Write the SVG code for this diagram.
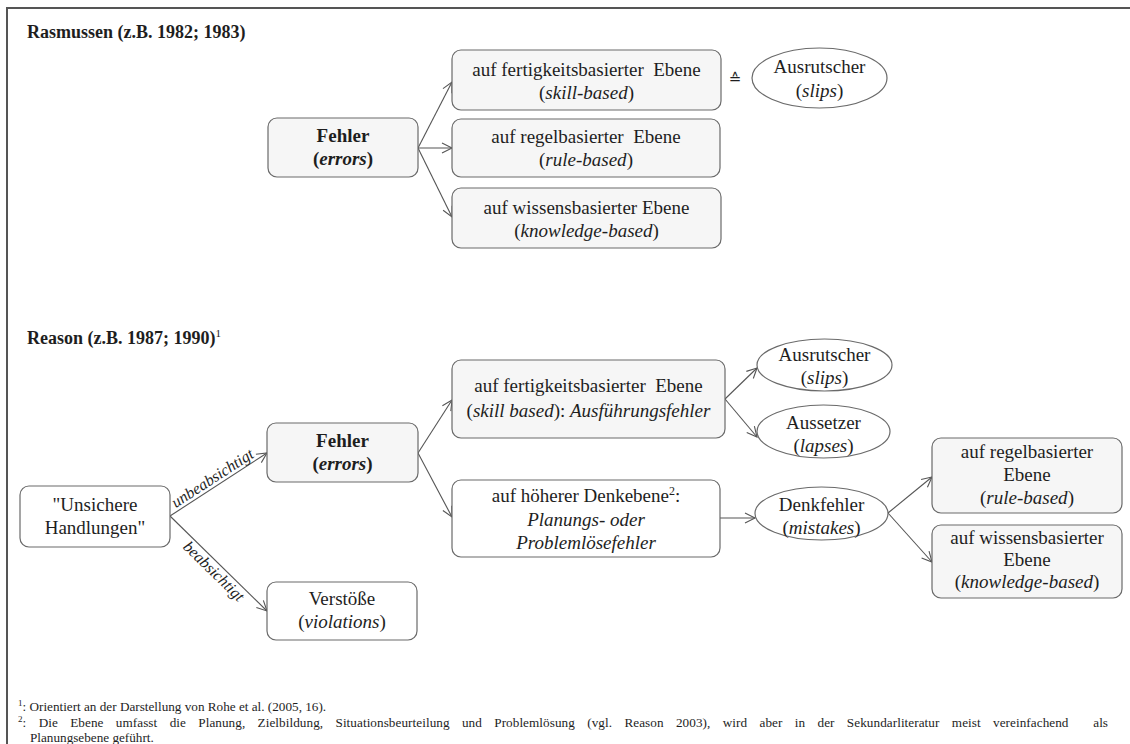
<svg xmlns="http://www.w3.org/2000/svg" width="1130" height="744" viewBox="0 0 1130 744">
  <style>
    text { font-family: "Liberation Serif", "Times New Roman", serif; fill: #1e1e1e; }
    .t { font-size: 19px; text-anchor: middle; }
    .h { font-size: 18px; font-weight: bold; }
    .fn { font-size: 13.2px; }
    .lbl { font-size: 16px; font-style: italic; text-anchor: middle; }
    .box { stroke: #6a6a6a; stroke-width: 1.2; fill: #ffffff; }
    .grey { fill: #f6f6f6; }
    .ell { stroke: #6a6a6a; stroke-width: 1.2; fill: #ffffff; }
    .con { stroke: #555555; stroke-width: 1.1; fill: none; marker-end: url(#arrow); }
    .frame { stroke: #555555; stroke-width: 2; fill: none; }
  </style>
  <defs>
    <marker id="arrow" markerUnits="userSpaceOnUse" markerWidth="14" markerHeight="12" refX="11" refY="5" orient="auto" overflow="visible">
      <path d="M1,0 L11,5 L1,10" fill="none" stroke="#555555" stroke-width="1.1"/>
    </marker>
  </defs>

  <!-- page frame (top and left rule) -->
  <path class="frame" d="M7,744 V8 H1130"/>

  <!-- headings -->
  <text class="h" x="27" y="38">Rasmussen (z.B. 1982; 1983)</text>
  <text class="h" x="27" y="344">Reason (z.B. 1987; 1990)<tspan font-size="11" font-weight="normal" dy="-7">1</tspan></text>

  <!-- connectors -->
  <g id="connectors">
    <line class="con" x1="418" y1="148" x2="452" y2="82"/>
    <line class="con" x1="418" y1="148" x2="452" y2="148"/>
    <line class="con" x1="418" y1="148" x2="452" y2="217"/>

    <line class="con" x1="170" y1="516" x2="267" y2="453"/>
    <line class="con" x1="170" y1="516" x2="267" y2="611"/>
    <line class="con" x1="418" y1="453" x2="452" y2="400"/>
    <line class="con" x1="418" y1="453" x2="452" y2="517"/>
    <line class="con" x1="725" y1="399" x2="757" y2="368"/>
    <line class="con" x1="725" y1="399" x2="757" y2="437"/>
    <line class="con" x1="720" y1="518" x2="755" y2="518"/>
    <line class="con" x1="888" y1="513" x2="932" y2="477"/>
    <line class="con" x1="888" y1="513" x2="932" y2="562"/>

    <text class="lbl" transform="translate(217,485) rotate(-33)" y="-3">unbeabsichtigt</text>
    <text class="lbl" transform="translate(220,565) rotate(44.4)" y="14">beabsichtigt</text>
  </g>

  <!-- Rasmussen -->
  <g id="r-fehler">
    <rect class="box grey" x="268" y="118" width="150" height="59" rx="9"/>
    <text class="t" x="343" y="142" font-weight="bold">Fehler</text>
    <text class="t" x="343" y="165" font-weight="bold">(<tspan font-style="italic">errors</tspan>)</text>
  </g>
  <g id="r-skill">
    <rect class="box grey" x="452" y="50" width="269" height="60" rx="9"/>
    <text class="t" x="586.5" y="76">auf fertigkeitsbasierter&#160; Ebene</text>
    <text class="t" x="586.5" y="99">(<tspan font-style="italic">skill-based</tspan>)</text>
  </g>
  <g id="r-rule">
    <rect class="box grey" x="452" y="119" width="268" height="58" rx="9"/>
    <text class="t" x="586" y="143">auf regelbasierter&#160; Ebene</text>
    <text class="t" x="586" y="166">(<tspan font-style="italic">rule-based</tspan>)</text>
  </g>
  <g id="r-knowledge">
    <rect class="box grey" x="452" y="188" width="269" height="60" rx="9"/>
    <text class="t" x="586.5" y="214">auf wissensbasierter Ebene</text>
    <text class="t" x="586.5" y="237">(<tspan font-style="italic">knowledge-based</tspan>)</text>
  </g>
  <g id="r-equiv">
    <text x="735" y="84" font-size="15" text-anchor="middle" style="font-family: 'DejaVu Sans', 'Liberation Serif', sans-serif">≙</text>
  </g>
  <g id="r-slips">
    <ellipse class="ell" cx="819.5" cy="78" rx="67.5" ry="30"/>
    <text class="t" x="819.5" y="73">Ausrutscher</text>
    <text class="t" x="819.5" y="97">(<tspan font-style="italic">slips</tspan>)</text>
  </g>

  <!-- Reason -->
  <g id="unsafe-acts">
    <rect class="box" x="20" y="486" width="150" height="61" rx="9"/>
    <text class="t" x="95" y="511">"Unsichere</text>
    <text class="t" x="95" y="534">Handlungen"</text>
  </g>
  <g id="errors">
    <rect class="box grey" x="267" y="423" width="151" height="59" rx="9"/>
    <text class="t" x="342.5" y="447" font-weight="bold">Fehler</text>
    <text class="t" x="342.5" y="470" font-weight="bold">(<tspan font-style="italic">errors</tspan>)</text>
  </g>
  <g id="violations">
    <rect class="box" x="267" y="582" width="150" height="58" rx="9"/>
    <text class="t" x="342" y="605">Verstöße</text>
    <text class="t" x="342" y="628">(<tspan font-style="italic">violations</tspan>)</text>
  </g>
  <g id="skill-level">
    <rect class="box grey" x="452" y="360" width="273" height="78" rx="9"/>
    <text class="t" x="588.5" y="392">auf fertigkeitsbasierter&#160; Ebene</text>
    <text class="t" x="588.5" y="417">(<tspan font-style="italic">skill based</tspan>): <tspan font-style="italic">Ausführungsfehler</tspan></text>
  </g>
  <g id="higher-level">
    <rect class="box" x="452" y="480" width="268" height="77" rx="9"/>
    <text class="t" x="586" y="502">auf höherer Denkebene<tspan font-size="12" dy="-7">2</tspan><tspan dy="7">:</tspan></text>
    <text class="t" x="586" y="526" font-style="italic">Planungs- oder</text>
    <text class="t" x="586" y="549" font-style="italic">Problemlösefehler</text>
  </g>
  <g id="slips">
    <ellipse class="ell" cx="824.5" cy="365" rx="67.5" ry="26"/>
    <text class="t" x="824.5" y="361">Ausrutscher</text>
    <text class="t" x="824.5" y="384">(<tspan font-style="italic">slips</tspan>)</text>
  </g>
  <g id="lapses">
    <ellipse class="ell" cx="823.5" cy="431.5" rx="66.5" ry="26.5"/>
    <text class="t" x="823.5" y="429">Aussetzer</text>
    <text class="t" x="823.5" y="452">(<tspan font-style="italic">lapses</tspan>)</text>
  </g>
  <g id="mistakes">
    <ellipse class="ell" cx="821.5" cy="513.5" rx="66.5" ry="26.5"/>
    <text class="t" x="821.5" y="511">Denkfehler</text>
    <text class="t" x="821.5" y="534">(<tspan font-style="italic">mistakes</tspan>)</text>
  </g>
  <g id="rule-based">
    <rect class="box grey" x="932" y="438" width="190" height="75" rx="9"/>
    <text class="t" x="1027" y="458">auf regelbasierter</text>
    <text class="t" x="1027" y="481">Ebene</text>
    <text class="t" x="1027" y="504">(<tspan font-style="italic">rule-based</tspan>)</text>
  </g>
  <g id="knowledge-based">
    <rect class="box grey" x="932" y="525" width="190" height="73" rx="9"/>
    <text class="t" x="1027" y="544">auf wissensbasierter</text>
    <text class="t" x="1027" y="566">Ebene</text>
    <text class="t" x="1027" y="588">(<tspan font-style="italic">knowledge-based</tspan>)</text>
  </g>

  <!-- footnotes (second line justified to the right margin) -->
  <g id="footnotes">
    <text class="fn" x="18" y="711"><tspan font-size="9" dy="-5">1</tspan><tspan dy="5">: Orientiert an der Darstellung von Rohe et al. (2005, 16).</tspan></text>
    <text class="fn" x="18" y="727" word-spacing="9" textLength="1090" lengthAdjust="spacing"><tspan font-size="9" dy="-5">2</tspan><tspan dy="5">: Die Ebene umfasst die Planung, Zielbildung, Situationsbeurteilung und Problemlösung (vgl. Reason 2003), wird aber in der Sekundarliteratur meist vereinfachend&#160; als</tspan></text>
    <text class="fn" x="30" y="742">Planungsebene geführt.</text>
  </g>
</svg>
